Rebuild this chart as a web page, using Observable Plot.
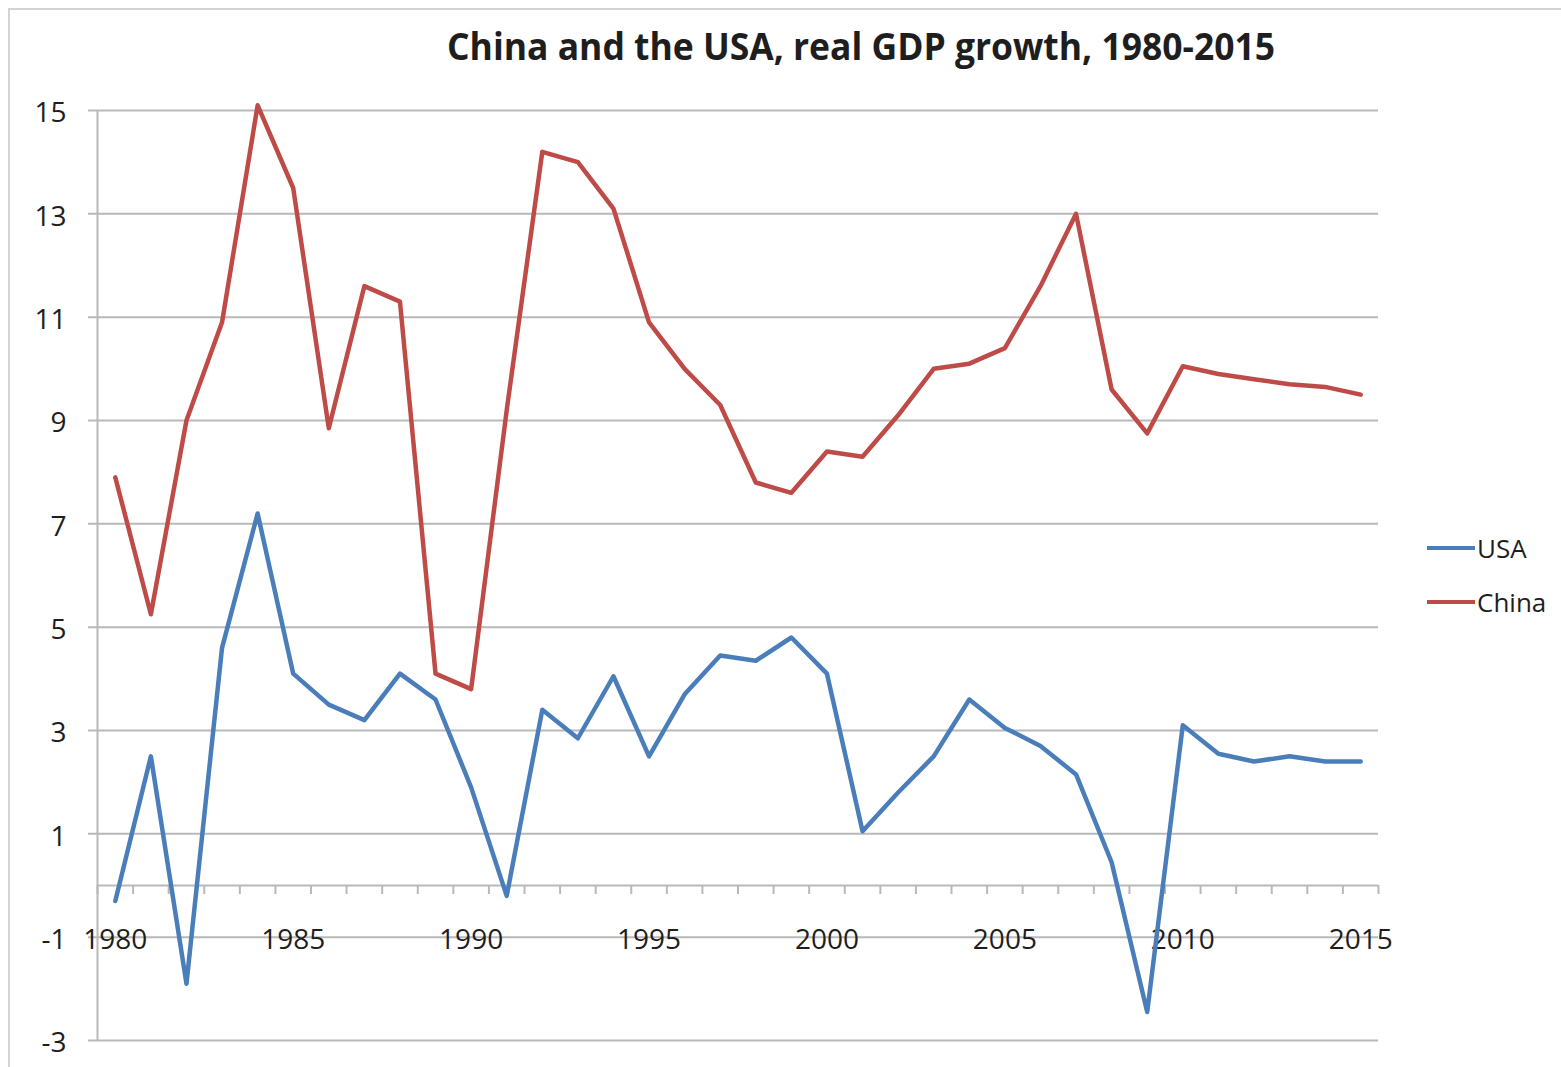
<!DOCTYPE html>
<html>
<head>
<meta charset="utf-8">
<script src="https://cdn.jsdelivr.net/npm/d3@7"></script>
<script src="https://cdn.jsdelivr.net/npm/@observablehq/plot@0.6"></script>
<style>
  body { margin: 0; background: #fff; }
  #wrap { position: relative; width: 1561px; height: 1067px; overflow: hidden; font-family: "Open Sans", sans-serif; color: #1e1e1e; }
  #border { position: absolute; left: 8px; top: 8px; width: 1600px; height: 1100px; border-left: 2px solid #d3d3d3; border-top: 2px solid #d3d3d3; }
  #chart { position: absolute; left: 0; top: 0; }
  #title { position: absolute; left: 861px; top: 26px; white-space: nowrap; font-weight: 700; font-size: 38px; line-height: 1; transform-origin: center top; }
  .leg { position: absolute; left: 1427px; height: 30px; display: flex; align-items: center; font-size: 26px; }
  .leg span.sw { display: inline-block; width: 48px; height: 4px; margin-right: 2px; }
</style>
</head>
<body>
<div id="wrap">
  <div id="border"></div>
  <div id="chart"></div>
  <div id="title">China and the USA, real GDP growth, 1980-2015</div>
  <div id="legend"></div>
</div>
<script>
// ---- data ----
const years = [1980, 1981, 1982, 1983, 1984, 1985, 1986, 1987, 1988, 1989,
               1990, 1991, 1992, 1993, 1994, 1995, 1996, 1997, 1998, 1999,
               2000, 2001, 2002, 2003, 2004, 2005, 2006, 2007, 2008, 2009,
               2010, 2011, 2012, 2013, 2014, 2015];
const usa = [-0.3, 2.5, -1.9, 4.6, 7.2, 4.1, 3.5, 3.2, 4.1, 3.6,
             1.9, -0.2, 3.4, 2.85, 4.05, 2.5, 3.7, 4.45, 4.35, 4.8,
             4.1, 1.05, 1.8, 2.5, 3.6, 3.05, 2.7, 2.15, 0.45, -2.45,
             3.1, 2.55, 2.4, 2.5, 2.4, 2.4];
const china = [7.9, 5.25, 9.0, 10.9, 15.1, 13.5, 8.85, 11.6, 11.3, 4.1,
               3.8, 9.2, 14.2, 14.0, 13.1, 10.9, 10.0, 9.3, 7.8, 7.6,
               8.4, 8.3, 9.1, 10.0, 10.1, 10.4, 11.6, 13.0, 9.6, 8.75,
               10.05, 9.9, 9.8, 9.7, 9.65, 9.5];
const seriesNames = ["USA", "China"];
const seriesColors = ["#4a7ebb", "#be4b48"];
const yTicks = [-3, -1, 1, 3, 5, 7, 9, 11, 13, 15];
const xLabelYears = [1980, 1985, 1990, 1995, 2000, 2005, 2010, 2015];

// ---- build table ----
const rows = [];
years.forEach((yr, i) => {
  rows.push({year: yr, value: usa[i], series: "USA"});
  rows.push({year: yr, value: china[i], series: "China"});
});
const half = 0.5;
const xDomain = [years[0] - half, years[years.length - 1] + half];
const boundaries = years.map(y => y - half).concat([years[years.length - 1] + half]);

const grid = "#b9b9b9";
const plot = Plot.plot({
  width: 1561,
  height: 1067,
  marginLeft: 97,
  marginRight: 183,
  marginTop: 110,
  marginBottom: 27,
  x: {type: "linear", domain: xDomain},
  y: {domain: [-3, 15]},
  color: {domain: seriesNames, range: seriesColors},
  style: {fontFamily: "'Open Sans', sans-serif", fontSize: "28px", color: "#1e1e1e", background: "transparent", overflow: "visible"},
  marks: [
    Plot.ruleY(yTicks, {stroke: grid, strokeWidth: 2, insetLeft: -9}),
    Plot.ruleY([0], {stroke: grid, strokeWidth: 2}),
    Plot.ruleX([xDomain[0]], {stroke: grid, strokeWidth: 2}),
    Plot.ruleX(boundaries, {x: d => d, y1: () => 0, y2: () => 0, insetBottom: -9, stroke: grid, strokeWidth: 2}),
    Plot.axisY(yTicks, {tickSize: 0, tickPadding: 31, dy: 3, fontSize: 28, fill: "#1e1e1e", label: null, tickFormat: d => String(d)}),
    Plot.axisX({ticks: [], label: null}),
    Plot.text(xLabelYears, {x: d => d, y: () => 0, text: d => String(d), dy: 55, fontSize: 28, fill: "#1e1e1e", textAnchor: "middle"}),
    Plot.line(rows, {x: "year", y: "value", z: "series", stroke: "series", strokeWidth: 4.5, strokeLinejoin: "round", strokeLinecap: "round"})
  ]
});
document.getElementById("chart").appendChild(plot);

// legend
const legend = document.getElementById("legend");
const legTops = [533, 587];
seriesNames.forEach((name, i) => {
  const d = document.createElement("div");
  d.className = "leg";
  d.style.top = legTops[i] + "px";
  const sw = document.createElement("span");
  sw.className = "sw";
  sw.style.background = seriesColors[i];
  d.appendChild(sw);
  d.appendChild(document.createTextNode(name));
  legend.appendChild(d);
});

// title: condense horizontally to match reference width
const t = document.getElementById("title");
const w = t.getBoundingClientRect().width;
const target = 828;
t.style.transform = `translateX(-50%) scaleX(${target / w})`;
t.style.transformOrigin = "50% 0";
</script>
</body>
</html>
